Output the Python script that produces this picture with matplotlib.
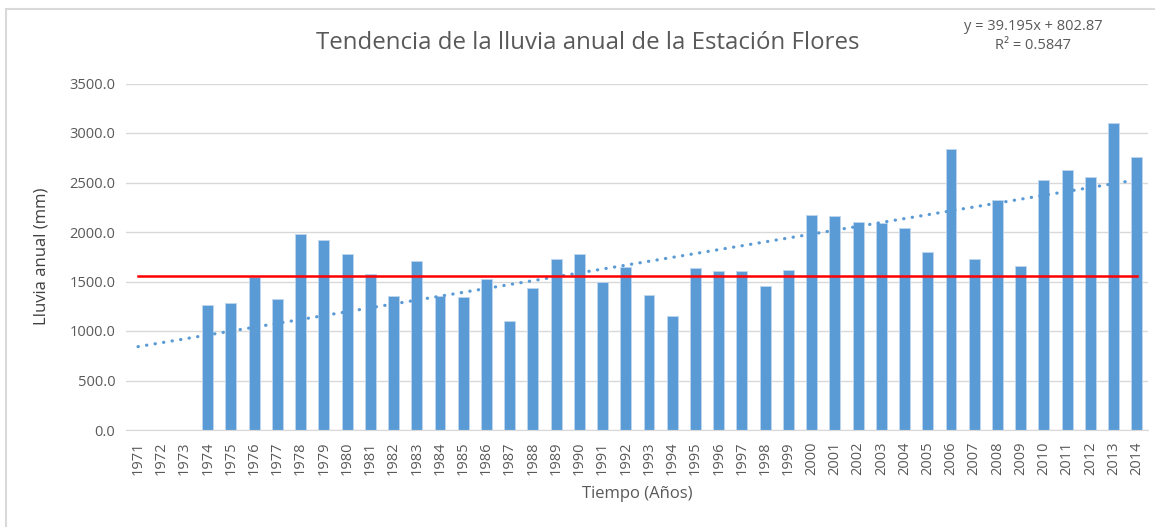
import numpy as np
import matplotlib.pyplot as plt
from matplotlib.patches import Rectangle

years = list(range(1971, 2015))
# annual rainfall (mm); 1971-1973 have no record
lluvia = [0, 0, 0,
          1260, 1286, 1542, 1326, 1980, 1916, 1778, 1576, 1357, 1710,
          1357, 1343, 1525, 1098, 1431, 1730, 1778, 1492, 1646, 1364,
          1152, 1633, 1603, 1603, 1451, 1613, 2172, 2162, 2104, 2088,
          2037, 1795, 2835, 1727, 2326, 1660, 2528, 2623, 2556, 3104,
          2758]
promedio = 1555
pendiente = 39.195
intercepto = 802.87
r2 = 0.5847

azul = "#5B9BD5"
gris = "#595959"
fuente = ["Open Sans", "DejaVu Sans"]

fig = plt.figure(figsize=(11.55, 5.27), dpi=100)
ax = fig.add_axes([126.4 / 1155, 1 - 430 / 527, 1022 / 1155, 346.5 / 527])

x = np.arange(len(years))
ax.bar(x, lluvia, width=0.47, color=azul, edgecolor="#BDD7EE", linewidth=0.6, zorder=2)

# linear trend (Excel numbering x = 1..n)
tendencia = pendiente * (x + 1) + intercepto
ax.plot(x, tendencia, color=azul, linestyle=(0, (0.1, 2.6)), linewidth=2.3,
        dash_capstyle="round", zorder=3)

ax.plot([x[0], x[-1]], [promedio, promedio], color="red", linewidth=1.8, zorder=4)

ax.set_xlim(-0.5, len(years) - 0.5)
ax.set_ylim(0, 3500)
ax.set_yticks(np.arange(0, 3501, 500))
ax.set_yticklabels([f"{v:.1f}" for v in np.arange(0, 3501, 500)], family=fuente,
                   fontsize=10.5, color=gris)
ax.set_xticks(x)
ax.set_xticklabels([str(a) for a in years], rotation=90, family=fuente,
                   fontsize=10.5, color=gris)
ax.tick_params(axis="both", length=0, pad=8)
ax.grid(axis="y", color="#D9D9D9", linewidth=1, zorder=0)
for s in ["top", "right", "left"]:
    ax.spines[s].set_visible(False)
ax.spines["bottom"].set_color("#D9D9D9")

ax.set_xlabel("Tiempo (Años)", family=fuente, fontsize=12, color=gris, labelpad=8)
ax.set_ylabel("Lluvia anual (mm)", family=fuente, fontsize=12, color="#404040", labelpad=14)

fig.text(588 / 1155, 1 - 43 / 527, "Tendencia de la lluvia anual de la Estación Flores",
         ha="center", va="center", family=fuente, fontsize=17.3, color=gris)
fig.text(1033 / 1155, 1 - 36 / 527,
         f"y = {pendiente}x + {intercepto}\nR² = {r2}",
         ha="center", va="center", family=fuente, fontsize=10.5, color=gris,
         linespacing=1.4)

# chart frame
fig.patches.append(Rectangle((6 / 1155, -0.01), 1.02, 1 - 9 / 527 + 0.01,
                             transform=fig.transFigure, fill=False,
                             edgecolor="#D9D9D9", linewidth=1.5))

fig.savefig("out.png", dpi=100)
